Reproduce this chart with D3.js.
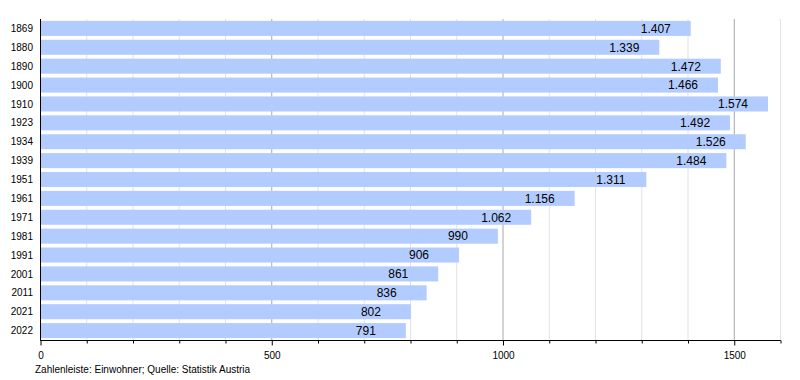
<!DOCTYPE html>
<html>
<head>
<meta charset="utf-8">
<script src="https://cdn.jsdelivr.net/npm/d3@7"></script>
<style>
  body { margin: 0; background: #fff; }
  svg { display: block; font-family: "Liberation Sans", Arial, sans-serif; }
</style>
</head>
<body>
<svg id="chart" width="800" height="380"></svg>
<script>
// Data
const years = ["1869", "1880", "1890", "1900", "1910", "1923", "1934", "1939", "1951",
  "1961", "1971", "1981", "1991", "2001", "2011", "2021", "2022"];
const population = [1407, 1339, 1472, 1466, 1574, 1492, 1526, 1484, 1311,
  1156, 1062, 990, 906, 861, 836, 802, 791];
const majorTicks = [0, 500, 1000, 1500];
const footer = "Zahlenleiste: Einwohner; Quelle: Statistik Austria";

const svg = d3.select("#chart");

const plotLeft = 40, plotRight = 780, plotTop = 19, plotBottom = 340;

const x = d3.scaleLinear().domain([0, 1600]).range([plotLeft, plotRight]);
const y = d3.scaleBand().domain(years).range([plotTop, plotBottom])
  .paddingInner(0.203).paddingOuter(0.1);

const de = d3.formatLocale({ decimal: ",", thousands: ".", grouping: [3], currency: ["", " €"] });
const fmt = de.format(",d");

const minorTicks = d3.range(100, 1601, 100).filter((t) => !majorTicks.includes(t));

// grid lines
svg.append("g")
  .selectAll("line")
  .data(minorTicks)
  .join("line")
  .attr("x1", (d) => x(d) + 0.5)
  .attr("x2", (d) => x(d) + 0.5)
  .attr("y1", plotTop)
  .attr("y2", plotBottom)
  .attr("stroke", "#e2e2e2");

svg.append("g")
  .selectAll("line")
  .data(majorTicks.filter((d) => d > 0))
  .join("line")
  .attr("x1", (d) => x(d) + 0.5)
  .attr("x2", (d) => x(d) + 0.5)
  .attr("y1", plotTop)
  .attr("y2", plotBottom)
  .attr("stroke", "#a8a8a8");

// bars
svg.append("g")
  .selectAll("rect")
  .data(years)
  .join("rect")
  .attr("x", x(0))
  .attr("y", (d) => y(d))
  .attr("width", (d, i) => x(population[i]) - x(0))
  .attr("height", y.bandwidth())
  .attr("fill", "#b3ccff");

// value labels
svg.append("g")
  .selectAll("text")
  .data(years)
  .join("text")
  .attr("x", (d, i) => x(population[i]) - 50)
  .attr("y", (d) => y(d) + y.bandwidth() / 2)
  .attr("dy", "0.36em")
  .attr("font-size", 12)
  .attr("fill", "#000")
  .text((d, i) => fmt(population[i]));

// year labels
svg.append("g")
  .selectAll("text")
  .data(years)
  .join("text")
  .attr("x", 33)
  .attr("y", (d) => y(d) + y.bandwidth() / 2)
  .attr("dy", "0.36em")
  .attr("text-anchor", "end")
  .attr("font-size", 10)
  .attr("fill", "#000")
  .text((d) => d);

// axes
svg.append("line")
  .attr("x1", plotLeft + 0.5).attr("x2", plotLeft + 0.5)
  .attr("y1", plotTop).attr("y2", plotBottom + 0.5)
  .attr("stroke", "#000");

const xAxis = svg.append("g").attr("transform", `translate(0.5,${plotBottom + 0.5})`);
xAxis.append("g").call(d3.axisBottom(x).tickValues(minorTicks).tickSize(3).tickFormat(""));
xAxis.append("g").call(d3.axisBottom(x).tickValues(majorTicks).tickSize(5).tickPadding(6).tickFormat(d3.format("d")));
xAxis.selectAll(".domain").attr("d", `M${plotLeft},0H${plotRight}`).attr("stroke", "#000");
xAxis.selectAll(".tick line").attr("stroke", "#000");
xAxis.selectAll(".tick text").attr("font-size", 10).attr("fill", "#000")
  .attr("font-family", "Liberation Sans, Arial, sans-serif");

// footer
svg.append("text")
  .attr("x", 35)
  .attr("y", 373)
  .attr("font-size", 10)
  .attr("fill", "#000")
  .text(footer);
</script>
</body>
</html>
